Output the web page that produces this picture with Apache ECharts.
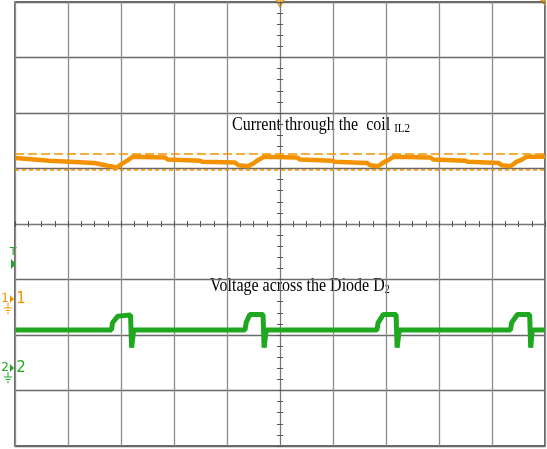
<!DOCTYPE html>
<html>
<head>
<meta charset="utf-8">
<script src="https://cdn.jsdelivr.net/npm/echarts@6/dist/echarts.min.js"></script>
<style>
    html, body { margin: 0; padding: 0; background: #fff; }
    #chart { width: 547px; height: 449px; }
</style>
</head>
<body>
<div id="chart"></div>
<script>
// scope screen: 10 x 8 divisions, centre = 0
var divX = [-5, 5];
var divY = [-4, 4];

// CH1 - current through the coil (divisions)
var currentT = [-4.99, -4.35, -3.50, -3.25, -3.08, -2.99, -2.87, -2.78, -2.17, -2.12, -1.51, -1.46, -0.85, -0.79, -0.60,
    -0.49, -0.42, -0.30, 0.32, 0.38, 0.98, 1.04, 1.64, 1.70, 1.85, 1.97, 2.04, 2.14, 2.84, 2.89, 3.50, 3.55, 4.12, 4.18,
    4.35, 4.46, 4.54, 4.65, 5.00];
var currentV = [1.19, 1.14, 1.10, 1.05, 1.02, 1.08, 1.15, 1.21, 1.20, 1.16, 1.14, 1.12, 1.11, 1.06, 1.04,
    1.10, 1.15, 1.21, 1.20, 1.16, 1.14, 1.12, 1.10, 1.06, 1.04, 1.12, 1.15, 1.21, 1.20, 1.16, 1.14, 1.12, 1.10, 1.06,
    1.04, 1.12, 1.15, 1.21, 1.21];

// CH2 - voltage across the diode (divisions)
var voltageT = [-4.99, -3.18, -3.16, -3.06, -2.82, -2.80, -2.76, -0.66, -0.64, -0.57, -0.32, -0.30, -0.26,
    1.83, 1.85, 1.95, 2.19, 2.21, 2.25, 4.35, 4.37, 4.48, 4.71, 4.73, 4.76, 5.00];
var voltageV = [-1.91, -1.91, -1.78, -1.66, -1.64, -2.23, -1.91, -1.91, -1.78, -1.63, -1.63, -2.23, -1.91,
    -1.91, -1.78, -1.63, -1.63, -2.23, -1.91, -1.91, -1.78, -1.63, -1.63, -2.23, -1.91, -1.91];

// cursor levels on CH1
var cursorLevels = [1.26, 0.98];

var orange = '#f39200';
var green = '#1fa81f';

function pairs(xs, ys) {
    var out = [];
    for (var i = 0; i < xs.length; i++) out.push([xs[i], ys[i]]);
    return out;
}

// centre axis with ticks on both sides
function centreX(inside, showSplit) {
    return {
        type: 'value', min: divX[0], max: divX[1], interval: 1, position: 'bottom',
        axisLine: { show: true, onZero: true, lineStyle: { color: '#777', width: 1 } },
        axisTick: { show: true, inside: inside, length: 3, lineStyle: { color: '#555' } },
        minorTick: { show: true, splitNumber: 4, length: 3, lineStyle: { color: '#555' } },
        axisLabel: { show: false },
        splitLine: { show: showSplit, lineStyle: { color: '#8c8c8c', width: 1.3 } }
    };
}
function centreY(inside, showSplit) {
    return {
        type: 'value', min: divY[0], max: divY[1], interval: 1, position: 'left',
        axisLine: { show: true, onZero: true, lineStyle: { color: '#777', width: 1 } },
        axisTick: { show: true, inside: inside, length: 3, lineStyle: { color: '#555' } },
        minorTick: { show: true, splitNumber: 5, length: 3, lineStyle: { color: '#555' } },
        axisLabel: { show: false },
        splitLine: { show: showSplit, lineStyle: { color: '#6a6a6a', width: 1.3 } }
    };
}

function groundSymbol(x, y, color) {
    var st = { stroke: color, lineWidth: 1 };
    return [
        { type: 'line', shape: { x1: x, y1: y, x2: x, y2: y + 5 }, style: st },
        { type: 'line', shape: { x1: x - 4, y1: y + 5, x2: x + 4, y2: y + 5 }, style: st },
        { type: 'line', shape: { x1: x - 2.5, y1: y + 7.5, x2: x + 2.5, y2: y + 7.5 }, style: st },
        { type: 'line', shape: { x1: x - 1, y1: y + 10, x2: x + 1, y2: y + 10 }, style: st }
    ];
}

function channelMarker(num, y, color) {
    var els = [
        { type: 'text', x: 5, y: y, style: { text: num, fontSize: 12, fontFamily: 'DejaVu Sans', fill: color, align: 'center', verticalAlign: 'middle' } },
        { type: 'polygon', shape: { points: [[10, y - 4], [14, y], [10, y + 4]] }, style: { fill: color } },
        { type: 'text', x: 21, y: y, style: { text: num, fontSize: 15, fontFamily: 'DejaVu Sans', fill: color, align: 'center', verticalAlign: 'middle' } }
    ];
    return els.concat(groundSymbol(8, y + 4, color));
}

var graphics = [
    // trigger position marker
    { type: 'polygon', shape: { points: [[276, 0], [284, 0], [280, 7]] }, style: { fill: '#ffd27a', stroke: orange, lineWidth: 1.2 } },
    { type: 'polygon', shape: { points: [[540, 0], [546, 0], [545, 6]] }, style: { fill: orange } },
    // trigger level
    { type: 'text', x: 13, y: 252, style: { text: 'T', fontSize: 11, fontFamily: 'DejaVu Sans', fill: green, align: 'center', verticalAlign: 'middle' } },
    { type: 'polygon', shape: { points: [[11, 259], [16, 264], [11, 269]] }, style: { fill: green } },
    // trace labels
    {
        type: 'text', x: 232, y: 116, scaleY: 1.18,
        style: {
            text: '{a|Current through the  coil }{s|IL2}',
            verticalAlign: 'top',
            rich: {
                a: { fontSize: 16, fontFamily: 'Liberation Serif', fill: '#000' },
                s: { fontSize: 11, fontFamily: 'Liberation Serif', fill: '#000', verticalAlign: 'bottom' }
            }
        }
    },
    {
        type: 'text', x: 210, y: 277, scaleY: 1.18,
        style: {
            text: '{a|Voltage across the Diode D}{s|2}',
            verticalAlign: 'top',
            rich: {
                a: { fontSize: 16, fontFamily: 'Liberation Serif', fill: '#000' },
                s: { fontSize: 10, fontFamily: 'Liberation Serif', fill: '#000', verticalAlign: 'bottom' }
            }
        }
    }
].concat(channelMarker('1', 299, orange)).concat(channelMarker('2', 368, green));

var chart = echarts.init(document.getElementById('chart'));

var option = {
    animation: false,
    backgroundColor: '#fff',
    grid: {
        left: 15, right: 2, top: 2, bottom: 3,
        show: true, borderColor: '#3a3a3a', borderWidth: 1.5
    },
    xAxis: [centreX(false, true), centreX(true, false)],
    yAxis: [centreY(false, true), centreY(true, false)],
    graphic: graphics,
    series: [
        {
            name: 'IL2', type: 'line', showSymbol: false, symbol: 'none',
            data: pairs(currentT, currentV),
            lineStyle: { color: orange, width: 4.5 },
            markLine: {
                silent: true, symbol: 'none', label: { show: false },
                data: [
                    { yAxis: cursorLevels[0], lineStyle: { color: orange, width: 1.5, type: [9, 4] } },
                    { yAxis: cursorLevels[1], lineStyle: { color: orange, width: 1.5, type: [4, 3] } }
                ]
            },
            z: 3
        },
        {
            name: 'VD2', type: 'line', showSymbol: false, symbol: 'none',
            data: pairs(voltageT, voltageV),
            lineStyle: { color: green, width: 5 },
            z: 3
        }
    ]
};

chart.setOption(option);
</script>
</body>
</html>
